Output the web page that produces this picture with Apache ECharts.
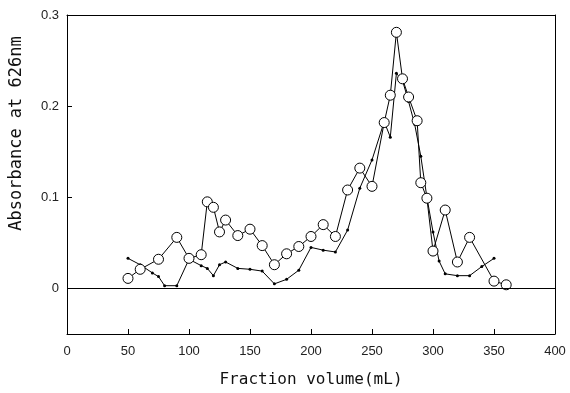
<!DOCTYPE html>
<html>
<head>
<meta charset="utf-8">
<script src="https://cdn.jsdelivr.net/npm/echarts@6/dist/echarts.min.js"></script>
<style>
html, body { margin: 0; padding: 0; background: #fff; }
#chart { width: 570px; height: 393px; }
</style>
</head>
<body>
<div id="chart"></div>
<script>
// open circles
var circleX = [50, 60, 75, 90, 100, 110, 115, 120, 125, 130, 140, 150, 160, 170, 180, 190, 200, 210, 220, 230, 240, 250, 260, 265, 270, 275, 280, 287, 290, 295, 300, 310, 320, 330, 350, 360];
var circleY = [0.011, 0.021, 0.032, 0.056, 0.033, 0.037, 0.095, 0.089, 0.062, 0.075, 0.058, 0.065, 0.047, 0.026, 0.038, 0.046, 0.057, 0.070, 0.057, 0.108, 0.132, 0.112, 0.182, 0.212, 0.281, 0.230, 0.210, 0.184, 0.116, 0.099, 0.041, 0.086, 0.029, 0.056, 0.008, 0.004];
// small dots
var dotX = [50, 60, 70, 75, 80, 90, 100, 110, 115, 120, 125, 130, 140, 150, 160, 170, 180, 190, 200, 210, 220, 230, 240, 250, 260, 265, 270, 275, 280, 285, 290, 295, 300, 305, 310, 320, 330, 340, 350];
var dotY = [0.033, 0.026, 0.017, 0.013, 0.003, 0.003, 0.032, 0.025, 0.022, 0.014, 0.026, 0.029, 0.022, 0.021, 0.019, 0.005, 0.010, 0.020, 0.045, 0.042, 0.040, 0.064, 0.110, 0.141, 0.183, 0.166, 0.236, 0.228, 0.205, 0.180, 0.145, 0.100, 0.062, 0.030, 0.016, 0.014, 0.014, 0.024, 0.033];
var yTicks = [0, 0.1, 0.2, 0.3];

function pairs(xs, ys) {
	var out = [];
	for (var i = 0; i < xs.length; i++) out.push([xs[i], ys[i]]);
	return out;
}

var chart = echarts.init(document.getElementById('chart'));

var labelStyle = { color: '#222', fontFamily: 'Liberation Sans', fontSize: 13 };
var frameLine = { show: true, onZero: false, lineStyle: { color: '#000', width: 1 } };

option = {
	animation: false,
	backgroundColor: '#fff',
	grid: { left: 62, right: 15, top: 15, bottom: 58 },
	xAxis: [{
		type: 'value',
		min: 0, max: 400, interval: 50,
		name: 'Fraction volume(mL)',
		nameLocation: 'middle',
		nameGap: 38,
		nameTextStyle: { color: '#111', fontFamily: 'DejaVu Sans Mono', fontSize: 16 },
		axisLine: frameLine,
		axisTick: { inside: true, length: 5, lineStyle: { color: '#000' } },
		axisLabel: Object.assign({ margin: 11 }, labelStyle),
		splitLine: { show: false }
	}, {
		// top frame edge
		type: 'value', position: 'top',
		min: 0, max: 400,
		axisLine: frameLine,
		axisTick: { show: false }, axisLabel: { show: false }, splitLine: { show: false }
	}],
	yAxis: [{
		type: 'value',
		min: -0.05, max: 0.3, interval: 0.05,
		name: 'Absorbance at 626nm',
		nameLocation: 'middle',
		nameGap: 42,
		nameTextStyle: { color: '#111', fontFamily: 'DejaVu Sans Mono', fontSize: 17, padding: [0, 0, 0, 82] },
		axisLine: frameLine,
		axisTick: { inside: true, length: 5, customValues: yTicks, lineStyle: { color: '#000' } },
		axisLabel: Object.assign({
			margin: 8,
			customValues: yTicks,
			formatter: function (v) { return v === 0 ? '0' : v.toFixed(1); }
		}, labelStyle),
		splitLine: { show: false }
	}, {
		// right frame edge
		type: 'value', position: 'right',
		min: -0.05, max: 0.3,
		axisLine: frameLine,
		axisTick: { show: false }, axisLabel: { show: false }, splitLine: { show: false }
	}],
	series: [{
		type: 'line',
		data: pairs(dotX, dotY),
		symbol: 'circle',
		symbolSize: 3,
		itemStyle: { color: '#000' },
		lineStyle: { color: '#000', width: 1 },
		markLine: {
			silent: true,
			symbol: 'none',
			label: { show: false },
			lineStyle: { color: '#000', width: 1, type: 'solid' },
			data: [{ yAxis: 0 }]
		}
	}, {
		type: 'line',
		data: pairs(circleX, circleY),
		symbol: 'circle',
		symbolSize: 10,
		itemStyle: { color: '#fff', borderColor: '#000', borderWidth: 1 },
		lineStyle: { color: '#000', width: 1 }
	}]
};

chart.setOption(option);
</script>
</body>
</html>
